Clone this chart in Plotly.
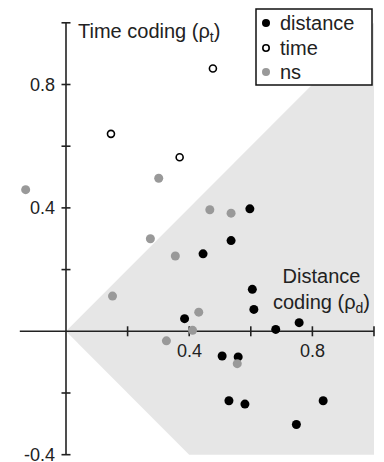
import plotly.graph_objects as go

# Data (rho_d, rho_t)
dist_x = [0.597, 0.536, 0.445, 0.605, 0.610, 0.385, 0.681, 0.757, 0.507, 0.559, 0.529, 0.581, 0.835, 0.748]
dist_y = [0.397, 0.294, 0.251, 0.136, 0.071, 0.041, 0.006, 0.028, -0.080, -0.083, -0.225, -0.236, -0.225, -0.302]

time_x = [0.146, 0.369, 0.477]
time_y = [0.640, 0.564, 0.852]

ns_x = [-0.131, 0.301, 0.467, 0.536, 0.274, 0.355, 0.151, 0.431, 0.411, 0.326, 0.556]
ns_y = [0.459, 0.496, 0.394, 0.383, 0.300, 0.244, 0.114, 0.062, 0.003, -0.031, -0.105]

y_ticks = [1.0, 0.8, 0.6, 0.4, 0.2, -0.2, -0.4]
y_labels = {0.8: "0.8", 0.4: "0.4", -0.4: "-0.4"}
x_ticks = [0.2, 0.4, 0.6, 0.8, 1.0]
x_labels = {0.4: "0.4", 0.8: "0.8"}

legend_names = ["distance", "time", "ns"]

FONT = "Liberation Sans, Arial, sans-serif"
AX = "#222222"
W, H = 384, 462
XR = [-0.2143, 1.0325]
YR = [-0.4237, 1.0739]
sx = W / (XR[1] - XR[0])   # px per x unit
sy = H / (YR[1] - YR[0])   # px per y unit

fig = go.Figure()

# shaded wedge |rho_t| < rho_d
fig.add_trace(go.Scatter(
    x=[0, 1.0, 1.0, 0.4, 0], y=[0, 1.0, -0.4, -0.4, 0],
    fill="toself", fillcolor="#e6e6e6", line=dict(width=0),
    mode="lines", hoverinfo="skip", showlegend=False))

# axes lines + crossing ticks drawn as a line trace in data space
tkx = 4.5 / sx
tky = 5.0 / sy
ax_x = [-0.15, 1.0, None, 0, 0, None]
ax_y = [0, 0, None, -0.4, 1.0, None]
for v in y_ticks:
    ax_x += [-tkx, tkx, None]
    ax_y += [v, v, None]
for v in x_ticks:
    ax_x += [v, v, None]
    ax_y += [-tky, tky, None]
fig.add_trace(go.Scatter(x=ax_x, y=ax_y, mode="lines", line=dict(color=AX, width=1.6),
                         hoverinfo="skip", showlegend=False, connectgaps=False))

fig.add_trace(go.Scatter(x=dist_x, y=dist_y, mode="markers", name=legend_names[0],
                         marker=dict(color="black", size=9, line=dict(width=0)),
                         showlegend=False))
fig.add_trace(go.Scatter(x=time_x, y=time_y, mode="markers", name=legend_names[1],
                         marker=dict(color="white", size=7, line=dict(color="black", width=1.6)),
                         showlegend=False))
fig.add_trace(go.Scatter(x=ns_x, y=ns_y, mode="markers", name=legend_names[2],
                         marker=dict(color="#999999", size=9, line=dict(width=0)),
                         showlegend=False))

def px(xp):
    return xp / W

def py(yp):
    return 1 - yp / H

shapes = []
# manual legend box
shapes.append(dict(type="rect", xref="paper", yref="paper",
                   x0=px(256), x1=px(372), y0=py(85), y1=py(9),
                   fillcolor="white", line=dict(color="#111", width=1.5), layer="above"))
leg_styles = [
    dict(fillcolor="black", line=dict(color="black", width=0), r=4.0),
    dict(fillcolor="white", line=dict(color="black", width=1.6), r=3.2),
    dict(fillcolor="#999999", line=dict(color="#999999", width=0), r=4.0),
]
leg_rows = [23, 48, 72]
ann = []
for name, st, yrow in zip(legend_names, leg_styles, leg_rows):
    r = st["r"]
    shapes.append(dict(type="circle", xref="paper", yref="paper",
                       x0=px(266 - r), x1=px(266 + r), y0=py(yrow + r), y1=py(yrow - r),
                       fillcolor=st["fillcolor"], line=st["line"], layer="above"))
    ann.append(dict(x=px(278), y=py(yrow), xref="paper", yref="paper", text=name,
                    showarrow=False, xanchor="left", yanchor="middle",
                    font=dict(size=20, color="#222")))

for v, t in y_labels.items():
    ann.append(dict(x=-0.03, y=v, xref="x", yref="y", text=t, showarrow=False,
                    xanchor="right", yanchor="middle", font=dict(size=18, color="#222")))
for v, t in x_labels.items():
    ann.append(dict(x=v, y=-0.025, xref="x", yref="y", text=t, showarrow=False,
                    xanchor="center", yanchor="top", font=dict(size=18, color="#222")))
ann.append(dict(x=0.034, y=0.97, xref="x", yref="y", text="Time coding (ρ<sub>t</sub>)",
                showarrow=False, xanchor="left", yanchor="middle", font=dict(size=20, color="#222")))
ann.append(dict(x=0.828, y=0.133, xref="x", yref="y", text="Distance<br>coding (ρ<sub>d</sub>)",
                showarrow=False, xanchor="center", yanchor="middle", align="center",
                font=dict(size=20, color="#222")))

fig.update_layout(
    width=W, height=H,
    margin=dict(l=0, r=0, t=0, b=0),
    paper_bgcolor="white", plot_bgcolor="white",
    font=dict(family=FONT, color="#222"),
    xaxis=dict(range=XR, visible=False, fixedrange=True),
    yaxis=dict(range=YR, visible=False, fixedrange=True),
    shapes=shapes, annotations=ann,
    showlegend=False,
)

fig.write_html("out.html")
